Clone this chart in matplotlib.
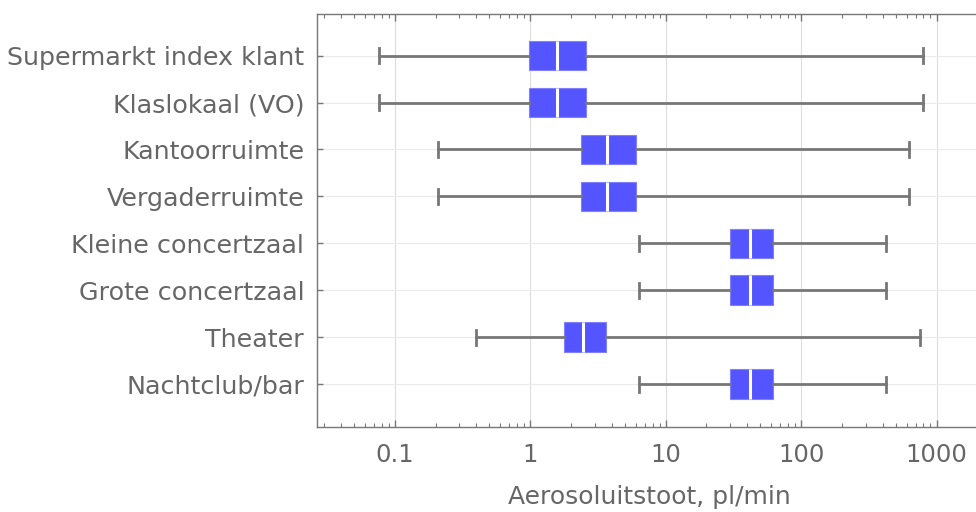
import matplotlib
matplotlib.use("Agg")
import matplotlib.pyplot as plt
from matplotlib.ticker import LogLocator, FixedLocator, FixedFormatter

# categories, top to bottom
labels = ["Supermarkt index klant", "Klaslokaal (VO)", "Kantoorruimte",
          "Vergaderruimte", "Kleine concertzaal", "Grote concertzaal",
          "Theater", "Nachtclub/bar"]

# box statistics, pl/min
whis_lo = [0.076, 0.076, 0.21, 0.21, 6.3, 6.3, 0.40, 6.3]
q1 = [0.98, 0.98, 2.35, 2.35, 29.6, 29.6, 1.76, 29.6]
median = [1.58, 1.58, 3.7, 3.7, 42.0, 42.0, 2.46, 42.0]
q3 = [2.6, 2.6, 6.0, 6.0, 62.0, 62.0, 3.65, 62.0]
whis_hi = [800, 800, 630, 630, 420, 420, 760, 420]

xticks = [0.1, 1, 10, 100, 1000]
xtick_labels = ["0.1", "1", "10", "100", "1000"]

TEXT = "#666666"
GRAY = "#777777"

fig = plt.figure(figsize=(9.76, 5.12), dpi=100)
W, H = 976, 512
left, right, top, bottom = 316.7, 983, 14, 426.7
ax = fig.add_axes([left / W, (H - bottom) / H, (right - left) / W, (bottom - top) / H])

stats = []
for i in range(len(labels)):
    stats.append(dict(whislo=whis_lo[i], q1=q1[i], med=median[i], q3=q3[i],
                      whishi=whis_hi[i], fliers=[]))

pos = list(range(len(labels)))
ax.bxp(stats, positions=pos, orientation="horizontal", widths=0.63,
       capwidths=0.32, patch_artist=True, showfliers=False,
       boxprops=dict(facecolor="#5555ff", edgecolor="#8080ff", linewidth=0.8),
       medianprops=dict(color="white", linewidth=2.2),
       whiskerprops=dict(color=GRAY, linewidth=2.0),
       capprops=dict(color=GRAY, linewidth=2.0))

ax.set_xscale("log")
ax.set_xlim(0.0265, 2200)
ax.set_ylim(7.908, -0.887)

ax.xaxis.set_major_locator(FixedLocator(xticks))
ax.xaxis.set_major_formatter(FixedFormatter(xtick_labels))
ax.xaxis.set_minor_locator(LogLocator(base=10, subs=range(2, 10), numticks=20))
ax.set_yticks(pos)
ax.set_yticklabels(labels)

ax.tick_params(axis="x", which="both", direction="in", top=True, bottom=True,
               color=GRAY, labelcolor=TEXT, labelsize=17.5, pad=12)
ax.tick_params(axis="x", which="major", length=5, width=1)
ax.tick_params(axis="x", which="minor", length=3, width=0.8)
ax.tick_params(axis="y", which="major", direction="in", length=4, width=1,
               color=GRAY, labelcolor=TEXT, labelsize=18.3, pad=9)
ax.tick_params(axis="y", which="minor", left=False)

ax.grid(True, axis="x", which="major", color="#dddddd", linewidth=0.8)
ax.grid(True, axis="y", which="major", color="#ebebeb", linewidth=0.8)
ax.set_axisbelow(True)

for name, sp in ax.spines.items():
    sp.set_color(GRAY)
    sp.set_linewidth(1.0)
ax.spines["right"].set_visible(False)

ax.set_xlabel("Aerosoluitstoot, pl/min", fontsize=18, color=TEXT, labelpad=13)

fig.savefig("out.png", dpi=100)
